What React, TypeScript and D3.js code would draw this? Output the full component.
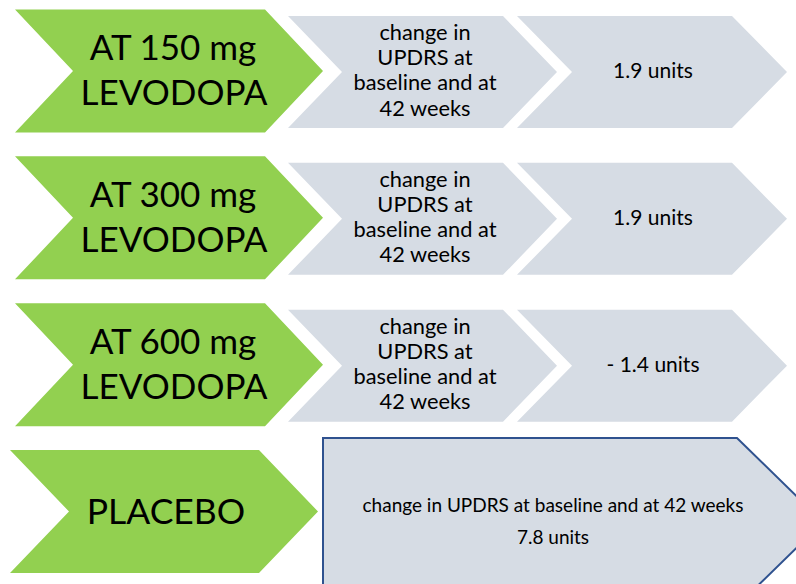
import React from "react";
import * as d3 from "d3";

// ---- data ----
const doseLabels: string[] = ["AT 150 mg", "AT 300 mg", "AT 600 mg"];
const drugLabel = "LEVODOPA";
const measureLines: string[] = ["change in", "UPDRS at", "baseline and at", "42 weeks"];
const doseChanges: number[] = [1.9, 1.9, -1.4];
const placeboLabel = "PLACEBO";
const placeboMeasure = "change in UPDRS at baseline and at 42 weeks";
const placeboChange: number[] = [7.8];
const unitLabel = "units";

const W = 796;
const H = 584;
const GREEN = "#92D050";
const GRAY = "#D6DCE4";
const NAVY = "#2F528F";
const FONT = "Lato, 'Open Sans', sans-serif";

const fmt = (v: number) => (v < 0 ? `- ${d3.format(".1f")(-v)}` : d3.format(".1f")(v)) + " " + unitLabel;

// chevron path: left notch (optional), pointed right
function chevron(x0: number, x1: number, cy: number, h: number, depth: number, notch: boolean) {
  const p = d3.path();
  const top = cy - h / 2;
  const bot = cy + h / 2;
  p.moveTo(x0, top);
  p.lineTo(x1 - depth, top);
  p.lineTo(x1, cy);
  p.lineTo(x1 - depth, bot);
  p.lineTo(x0, bot);
  if (notch) p.lineTo(x0 + depth, cy);
  p.closePath();
  return p.toString();
}

export default function App() {
  const rows = [...doseLabels, placeboLabel];
  const y = d3.scalePoint<string>().domain(rows).range([71, 511.5]);

  return (
    <svg width={W} height={H} style={{ position: "absolute", left: 0, top: 0, background: "#fff" }}>
      {doseLabels.map((lab, i) => {
        const cy = y(lab)!;
        return (
          <g key={lab}>
            <path d={chevron(15, 323, cy, 123, 58, true)} fill={GREEN} />
            <path d={chevron(288, 557, cy + 1, 112, 54, true)} fill={GRAY} />
            <path d={chevron(517, 787, cy + 1, 112, 55, true)} fill={GRAY} />
            <text x={173} y={cy - 11} textAnchor="middle" fontFamily={FONT} fontSize={35} fill="#000">{lab}</text>
            <text x={174} y={cy + 34} textAnchor="middle" fontFamily={FONT} fontSize={35} fill="#000">{drugLabel}</text>
            {measureLines.map((l, j) => (
              <text key={j} x={425} y={cy - 31 + j * 25.2} textAnchor="middle" fontFamily={FONT} fontSize={21.8} fill="#000">{l}</text>
            ))}
            <text x={653} y={cy + 7} textAnchor="middle" fontFamily={FONT} fontSize={21} fill="#000">{fmt(doseChanges[i])}</text>
          </g>
        );
      })}
      {(() => {
        const cy = y(placeboLabel)!;
        return (
          <g>
            <path d={chevron(10, 318, cy, 123, 59, true)} fill={GREEN} />
            <path d={chevron(323, 823, 522, 168, 86, false)} fill={GRAY} stroke={NAVY} strokeWidth={2} />
            <text x={166} y={cy + 12} textAnchor="middle" fontFamily={FONT} fontSize={35.5} fill="#000">{placeboLabel}</text>
            <text x={553} y={512} textAnchor="middle" fontFamily={FONT} fontSize={19} fill="#000">{placeboMeasure}</text>
            <text x={553} y={544} textAnchor="middle" fontFamily={FONT} fontSize={19} fill="#000">{fmt(placeboChange[0])}</text>
          </g>
        );
      })()}
    </svg>
  );
}
